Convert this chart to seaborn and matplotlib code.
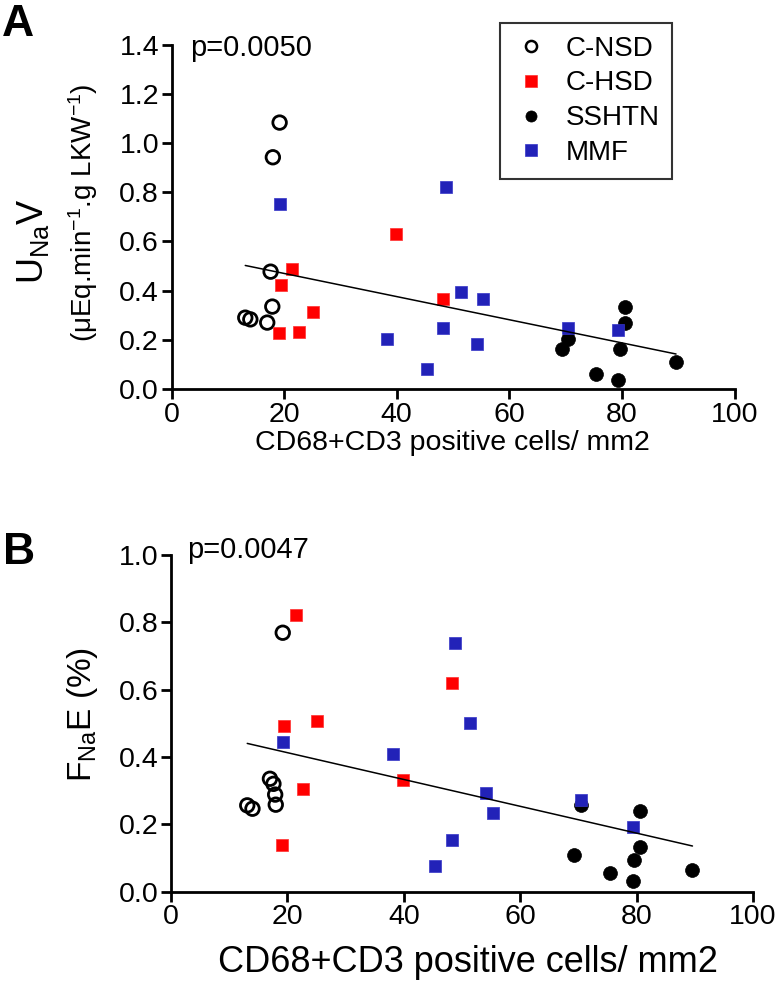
"""Sodium excretion vs CD68+CD3 positive cells"""

import numpy as np
import pandas as pd
import matplotlib
matplotlib.use("Agg")
import matplotlib.pyplot as plt
from matplotlib.lines import Line2D
import seaborn as sns

W, H = 780, 984

GROUPS = ["C-NSD", "C-HSD", "SSHTN", "MMF"]

# cells / mm2 (same animals in both panels)
cnsd_cells = [13.1, 14.0, 17.0, 17.6, 17.9, 18.0, 19.2]
chsd_cells = [19.1, 19.5, 21.4, 22.6, 25.1, 39.8, 48.3]
sshtn_cells = [69.3, 70.4, 75.4, 79.3, 79.6, 80.5, 80.6, 89.6]
mmf_cells = [19.2, 38.2, 45.4, 48.3, 48.8, 51.4, 54.2, 55.4, 70.4, 79.3]

# panel A: UNaV
cnsd_unav = [0.290, 0.283, 0.270, 0.477, 0.335, 0.942, 1.083]
chsd_unav = [0.226, 0.423, 0.488, 0.233, 0.312, 0.630, 0.365]
sshtn_unav = [0.163, 0.202, 0.061, 0.037, 0.164, 0.267, 0.335, 0.111]
mmf_unav = [0.751, 0.202, 0.081, 0.247, 0.822, 0.393, 0.182, 0.366, 0.249, 0.240]

# panel B: FENa (%)
cnsd_fena = [0.256, 0.246, 0.335, 0.320, 0.288, 0.258, 0.769]
chsd_fena = [0.137, 0.491, 0.823, 0.306, 0.508, 0.330, 0.621]
sshtn_fena = [0.109, 0.256, 0.056, 0.030, 0.095, 0.132, 0.239, 0.065]
mmf_fena = [0.443, 0.409, 0.077, 0.154, 0.737, 0.501, 0.294, 0.234, 0.271, 0.193]

P_TEXT = ["p=0.0050", "p=0.0047"]

STYLE = {
    "C-NSD": dict(marker="o", facecolor="none", edgecolor="black", linewidth=2.0, s=95),
    "C-HSD": dict(marker="s", facecolor="#FF0000", edgecolor="#FF3030", linewidth=0.5, s=80),
    "SSHTN": dict(marker="o", facecolor="black", edgecolor="black", linewidth=0.5, s=100),
    "MMF": dict(marker="s", facecolor="#2222B8", edgecolor="#3535C8", linewidth=0.5, s=80),
}


def build_frame():
    cells = [cnsd_cells, chsd_cells, sshtn_cells, mmf_cells]
    unav = [cnsd_unav, chsd_unav, sshtn_unav, mmf_unav]
    fena = [cnsd_fena, chsd_fena, sshtn_fena, mmf_fena]
    parts = []
    for g, c, u, f in zip(GROUPS, cells, unav, fena):
        parts.append(pd.DataFrame({"group": g, "cells": c, "unav": u, "fena": f}))
    return pd.concat(parts, ignore_index=True)


def fx(px):
    return px / W


def fy(py):
    return 1 - py / H


def draw_panel(ax, df, ycol, ymax):
    for g in GROUPS:
        sub = df[df["group"] == g]
        sns.scatterplot(data=sub, x="cells", y=ycol, ax=ax, legend=False,
                        clip_on=False, zorder=3, **STYLE[g])
    sns.regplot(data=df, x="cells", y=ycol, ax=ax, scatter=False, ci=None,
                truncate=True, color="black", line_kws={"linewidth": 1.1, "zorder": 4})
    ax.set_xlim(0, 100)
    ax.set_ylim(0, ymax)
    ax.set_xticks(np.arange(0, 101, 20))
    ax.set_yticks(np.arange(0, ymax + 0.01, 0.2))
    ax.set_yticklabels([f"{v:.1f}" for v in np.arange(0, ymax + 0.01, 0.2)])
    ax.set_xlabel("")
    ax.set_ylabel("")
    sns.despine(ax=ax)
    for sp in ["left", "bottom"]:
        ax.spines[sp].set_linewidth(2)
        ax.spines[sp].set_color("black")
    ax.tick_params(direction="out", length=7, width=2, colors="black",
                   labelsize=20.5, pad=2, bottom=True, left=True)


def main():
    sns.set_style("ticks")
    plt.rcParams["font.family"] = ["Liberation Sans", "DejaVu Sans"]
    plt.rcParams["mathtext.default"] = "regular"
    plt.rcParams["text.color"] = "black"

    df = build_frame()
    fig = plt.figure(figsize=(W / 100, H / 100), dpi=100)

    ax_a = fig.add_axes([fx(171.5), fy(389), (734.6 - 171.5) / W, (389 - 44.6) / H])
    ax_b = fig.add_axes([fx(171), fy(891.5), (753 - 171) / W, (891.5 - 555) / H])

    draw_panel(ax_a, df, "unav", 1.4)
    draw_panel(ax_b, df, "fena", 1.0)

    # panel letters
    fig.text(fx(2), fy(24), "A", fontsize=32, fontweight="bold", va="center", ha="left")
    fig.text(fx(3), fy(552), "B", fontsize=32, fontweight="bold", va="center", ha="left")

    # p values
    fig.text(fx(190), fy(48), P_TEXT[0], fontsize=21, va="center", ha="left")
    fig.text(fx(187), fy(550), P_TEXT[1], fontsize=21, va="center", ha="left")

    # axis labels
    fig.text(fx(33), fy(241), r"U$_{Na}$V", fontsize=26, rotation=90, va="center", ha="center")
    fig.text(fx(83), fy(213), r"($\mu$Eq.min$^{-1}$.g LKW$^{-1}$)", fontsize=20,
             rotation=90, va="center", ha="center")
    fig.text(fx(82), fy(715), r"F$_{Na}$E (%)", fontsize=24, rotation=90, va="center", ha="center")
    fig.text(fx(452), fy(443), "CD68+CD3 positive cells/ mm2", fontsize=20.5, va="center", ha="center")
    fig.text(fx(218), fy(962), "CD68+CD3 positive cells/ mm2", fontsize=26, va="center", ha="left")

    # legend
    handles = []
    for g in GROUPS:
        st = STYLE[g]
        handles.append(Line2D([], [], linestyle="none", marker=st["marker"],
                              markerfacecolor=st["facecolor"], markeredgecolor=st["edgecolor"],
                              markeredgewidth=1.8 if g == "C-NSD" else 0.5,
                              markersize=8 if st["marker"] == "o" else 8.5, label=g))
    leg = fig.legend(handles=handles, loc="upper left", bbox_to_anchor=(fx(500), fy(23)),
                     frameon=True, fancybox=False, fontsize=20, labelspacing=0.32,
                     handletextpad=0.6, borderpad=0.45, handlelength=1.3, borderaxespad=0)
    leg.get_frame().set_edgecolor("black")
    leg.get_frame().set_linewidth(1.5)

    fig.savefig("out.png", dpi=100)
    plt.close(fig)


if __name__ == "__main__":
    main()
